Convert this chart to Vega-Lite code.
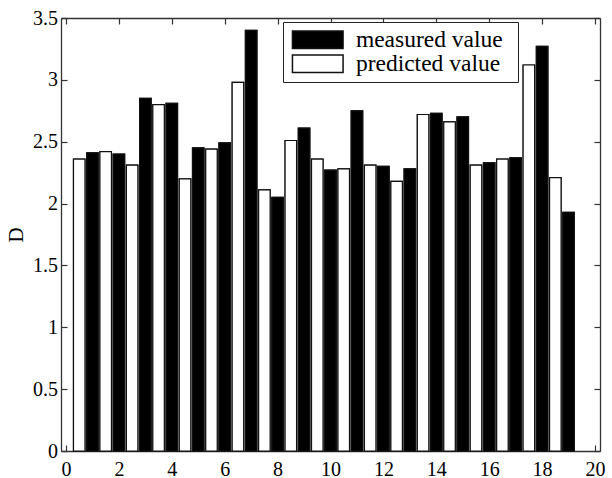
{
  "$schema": "https://vega.github.io/schema/vega-lite/v6.json",
  "width": 539,
  "height": 433,
  "autosize": "none",
  "padding": {"left": 61, "top": 18, "right": 12, "bottom": 27},
  "config": {"view": {"stroke": null}, "font": "Liberation Serif"},
  "data": {
    "values": [
      {"x": 0.5, "D": 2.36, "series": "predicted value"},
      {"x": 1, "D": 2.41, "series": "measured value"},
      {"x": 1.5, "D": 2.42, "series": "predicted value"},
      {"x": 2, "D": 2.40, "series": "measured value"},
      {"x": 2.5, "D": 2.31, "series": "predicted value"},
      {"x": 3, "D": 2.85, "series": "measured value"},
      {"x": 3.5, "D": 2.80, "series": "predicted value"},
      {"x": 4, "D": 2.81, "series": "measured value"},
      {"x": 4.5, "D": 2.20, "series": "predicted value"},
      {"x": 5, "D": 2.45, "series": "measured value"},
      {"x": 5.5, "D": 2.44, "series": "predicted value"},
      {"x": 6, "D": 2.49, "series": "measured value"},
      {"x": 6.5, "D": 2.98, "series": "predicted value"},
      {"x": 7, "D": 3.40, "series": "measured value"},
      {"x": 7.5, "D": 2.11, "series": "predicted value"},
      {"x": 8, "D": 2.05, "series": "measured value"},
      {"x": 8.5, "D": 2.51, "series": "predicted value"},
      {"x": 9, "D": 2.61, "series": "measured value"},
      {"x": 9.5, "D": 2.36, "series": "predicted value"},
      {"x": 10, "D": 2.27, "series": "measured value"},
      {"x": 10.5, "D": 2.28, "series": "predicted value"},
      {"x": 11, "D": 2.75, "series": "measured value"},
      {"x": 11.5, "D": 2.31, "series": "predicted value"},
      {"x": 12, "D": 2.30, "series": "measured value"},
      {"x": 12.5, "D": 2.18, "series": "predicted value"},
      {"x": 13, "D": 2.28, "series": "measured value"},
      {"x": 13.5, "D": 2.72, "series": "predicted value"},
      {"x": 14, "D": 2.73, "series": "measured value"},
      {"x": 14.5, "D": 2.66, "series": "predicted value"},
      {"x": 15, "D": 2.70, "series": "measured value"},
      {"x": 15.5, "D": 2.31, "series": "predicted value"},
      {"x": 16, "D": 2.33, "series": "measured value"},
      {"x": 16.5, "D": 2.36, "series": "predicted value"},
      {"x": 17, "D": 2.37, "series": "measured value"},
      {"x": 17.5, "D": 3.12, "series": "predicted value"},
      {"x": 18, "D": 3.27, "series": "measured value"},
      {"x": 18.5, "D": 2.21, "series": "predicted value"},
      {"x": 19, "D": 1.93, "series": "measured value"}
    ]
  },
  "layer": [
    {
      "mark": {"type": "bar", "size": 11.5, "stroke": "#111", "strokeWidth": 1.2},
      "encoding": {
        "x": {
          "field": "x", "type": "quantitative",
          "scale": {"domain": [0, 20], "nice": false, "zero": false},
          "axis": {
            "orient": "bottom", "title": null, "values": [0, 2, 4, 6, 8, 10, 12, 14, 16, 18, 20],
            "format": "d", "grid": false, "tickSize": -6, "labelPadding": 14,
            "labelFont": "Liberation Serif", "labelFontSize": 20, "labelColor": "#000",
            "labelFlush": false, "domainColor": "#333", "domainWidth": 1.3, "tickColor": "#333", "tickWidth": 1.2
          }
        },
        "y": {
          "field": "D", "type": "quantitative",
          "scale": {"domain": [0, 3.5], "nice": false},
          "axis": {
            "orient": "left", "title": "D", "values": [0, 0.5, 1, 1.5, 2, 2.5, 3, 3.5],
            "format": "~g", "grid": false, "tickSize": -6, "labelPadding": 9.5,
            "labelFont": "Liberation Serif", "labelFontSize": 20, "labelColor": "#000",
            "labelFlush": false, "domainColor": "#333", "domainWidth": 1.3, "tickColor": "#333", "tickWidth": 1.2,
            "titleFont": "Liberation Serif", "titleFontSize": 21, "titleFontWeight": "normal", "titleColor": "#000", "titlePadding": 6
          }
        },
        "color": {
          "field": "series", "type": "nominal",
          "scale": {"domain": ["measured value", "predicted value"], "range": ["#000000", "#ffffff"]},
          "legend": {
            "orient": "none", "legendX": 222, "legendY": 4, "title": null, "zindex": 2,
            "symbolType": "M-1,-1H4.75V1H-1Z M23.5,0Z", "symbolSize": 310, "symbolOffset": 0.5,
            "symbolStrokeColor": "#000", "symbolStrokeWidth": 1.5,
            "labelFont": "Liberation Serif", "labelFontSize": 23.5, "labelColor": "#000", "labelOffset": 42.9,
            "strokeColor": "#222", "fillColor": "#ffffff", "padding": 6, "rowPadding": -1
          }
        }
      }
    },
    {
      "mark": {"type": "bar", "size": 11.5, "stroke": "#111", "strokeWidth": 1.2},
      "encoding": {
        "x": {
          "field": "x", "type": "quantitative",
          "scale": {"domain": [0, 20], "nice": false, "zero": false},
          "axis": {
            "orient": "top", "title": null, "values": [0, 2, 4, 6, 8, 10, 12, 14, 16, 18, 20],
            "labels": false, "grid": false, "tickSize": -6,
            "domainColor": "#333", "domainWidth": 1.3, "tickColor": "#333", "tickWidth": 1.2
          }
        },
        "y": {
          "field": "D", "type": "quantitative",
          "scale": {"domain": [0, 3.5], "nice": false},
          "axis": {
            "orient": "right", "title": null, "values": [0, 0.5, 1, 1.5, 2, 2.5, 3, 3.5],
            "labels": false, "grid": false, "tickSize": -6,
            "domainColor": "#333", "domainWidth": 1.3, "tickColor": "#333", "tickWidth": 1.2
          }
        },
        "color": {
          "field": "series", "type": "nominal",
          "scale": {"domain": ["measured value", "predicted value"], "range": ["#000000", "#ffffff"]}
        }
      }
    }
  ],
  "resolve": {"axis": {"x": "independent", "y": "independent"}}
}
